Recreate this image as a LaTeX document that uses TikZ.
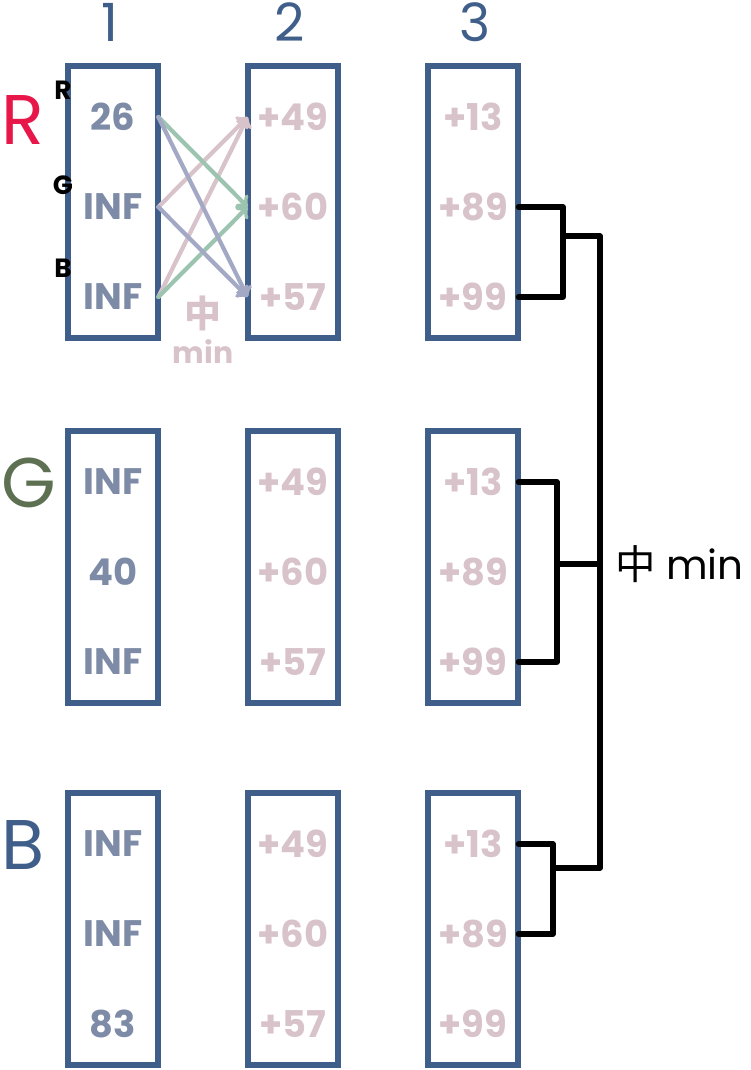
\documentclass[tikz,border=0pt]{standalone}
\usepackage{fontspec}
\setmainfont{Poppins}
\newfontfamily\cjk{Noto Sans CJK SC}
\usetikzlibrary{positioning,calc}
\definecolor{boxblue}{HTML}{3F5F8A}
\definecolor{valgray}{HTML}{7D8BA6}
\definecolor{valpink}{HTML}{D8C3CA}
\definecolor{arrgreen}{HTML}{9CC4B1}
\definecolor{arrblue}{HTML}{A3A9C4}
\definecolor{labred}{HTML}{E8174A}
\definecolor{labgreen}{HTML}{5E7052}
\tikzset{
  cell/.style={rectangle, draw=boxblue, line width=2.9pt, minimum width=1.8cm, minimum height=5.44cm},
  val/.style={minimum width=1.8cm, inner sep=0pt, font=\bfseries\fontsize{21}{24}\selectfont},
  link/.style={->, line width=2.4pt, line cap=round},
  bracket/.style={draw=black, line width=2.9pt, line cap=round, line join=round}
}
\begin{document}
\begin{tikzpicture}[x=0.02cm, y=-0.02cm]
    \useasboundingbox (0,0) rectangle (750,1070);
    % column headers
    \node (head1) [text=boxblue, font=\fontsize{30}{32}\selectfont] at (110,22) {1};
    \node (head2) [text=boxblue, font=\fontsize{30}{32}\selectfont] at (290,22) {2};
    \node (head3) [text=boxblue, font=\fontsize{30}{32}\selectfont] at (475,22) {3};
    % row labels
    \node (labr) [anchor=west, inner sep=0pt, text=labred, font=\fontsize{40}{42}\selectfont] at (1,120) {R};
    \node (labg) [anchor=west, inner sep=0pt, text=labgreen, font=\fontsize{40}{42}\selectfont] at (1,483) {G};
    \node (labb) [anchor=west, inner sep=0pt, text=boxblue, font=\fontsize{40}{42}\selectfont] at (1,845) {B};
    % boxes
    \foreach \r/\y in {r/202, g/567, b/929}
      \foreach \c/\x in {1/113, 2/293, 3/473}
        \node (\r\c) [cell] at (\x,\y) {};
    % values of column 1
    \foreach \r/\y/\p/\q/\s in {r/202/26/INF/INF, g/567/INF/40/INF, b/929/INF/INF/83} {
      \node (\r1-a) [val, text=valgray] at (113,\y-85) {\p};
      \node (\r1-b) [val, text=valgray] at (113,\y+5) {\q};
      \node (\r1-c) [val, text=valgray] at (113,\y+95) {\s};
    }
    % values of columns 2 and 3
    \foreach \r/\y in {r/202, g/567, b/929} {
      \node (\r2-a) [val, text=valpink] at (293,\y-85) {+49};
      \node (\r2-b) [val, text=valpink] at (293,\y+5) {+60};
      \node (\r2-c) [val, text=valpink] at (293,\y+95) {+57};
      \node (\r3-a) [val, text=valpink] at (473,\y-85) {+13};
      \node (\r3-b) [val, text=valpink] at (473,\y+5) {+89};
      \node (\r3-c) [val, text=valpink] at (473,\y+95) {+99};
    }
    % channel marks
    \node (chr) [font=\bfseries\fontsize{15}{16}\selectfont] at (63,90) {R};
    \node (chg) [font=\bfseries\fontsize{15}{16}\selectfont] at (63,185) {G};
    \node (chb) [font=\bfseries\fontsize{15}{16}\selectfont] at (63,268) {B};
    % links between columns 1 and 2
    \draw [link, valpink] (r1-b.east) -- (r2-a.west);
    \draw [link, valpink] (r1-c.east) -- (r2-a.west);
    \draw [link, arrgreen] (r1-a.east) -- (r2-b.west);
    \draw [link, arrgreen] (r1-c.east) -- (r2-b.west);
    \draw [link, arrblue] (r1-a.east) -- (r2-c.west);
    \draw [link, arrblue] (r1-b.east) -- (r2-c.west);
    \node (mid) [text=valpink, inner sep=0pt, font=\cjk\bfseries\fontsize{21}{22}\selectfont] at (203,313) {中};
    \node (minsmall) [text=valpink, inner sep=0pt, font=\bfseries\fontsize{17}{18}\selectfont] at (203,352) {min};
    % brackets
    \coordinate (jr) at (563,236);
    \coordinate (jg) at (557,564);
    \coordinate (jb) at (553,868);
    \draw [bracket] (r3-b.east) -| (jr) |- (r3-c.east);
    \draw [bracket] (g3-a.east) -| (jg) |- (g3-c.east);
    \draw [bracket] (b3-a.east) -| (jb) |- (b3-b.east);
    \coordinate (trunk) at (600,564);
    \draw [bracket] (jr) -| (trunk) |- (jb);
    \draw [bracket] (jg) -- (trunk);
    \node (minlab) [right=5pt of trunk, font=\fontsize{23}{26}\selectfont] {{\cjk 中} min};
\end{tikzpicture}
\end{document}
